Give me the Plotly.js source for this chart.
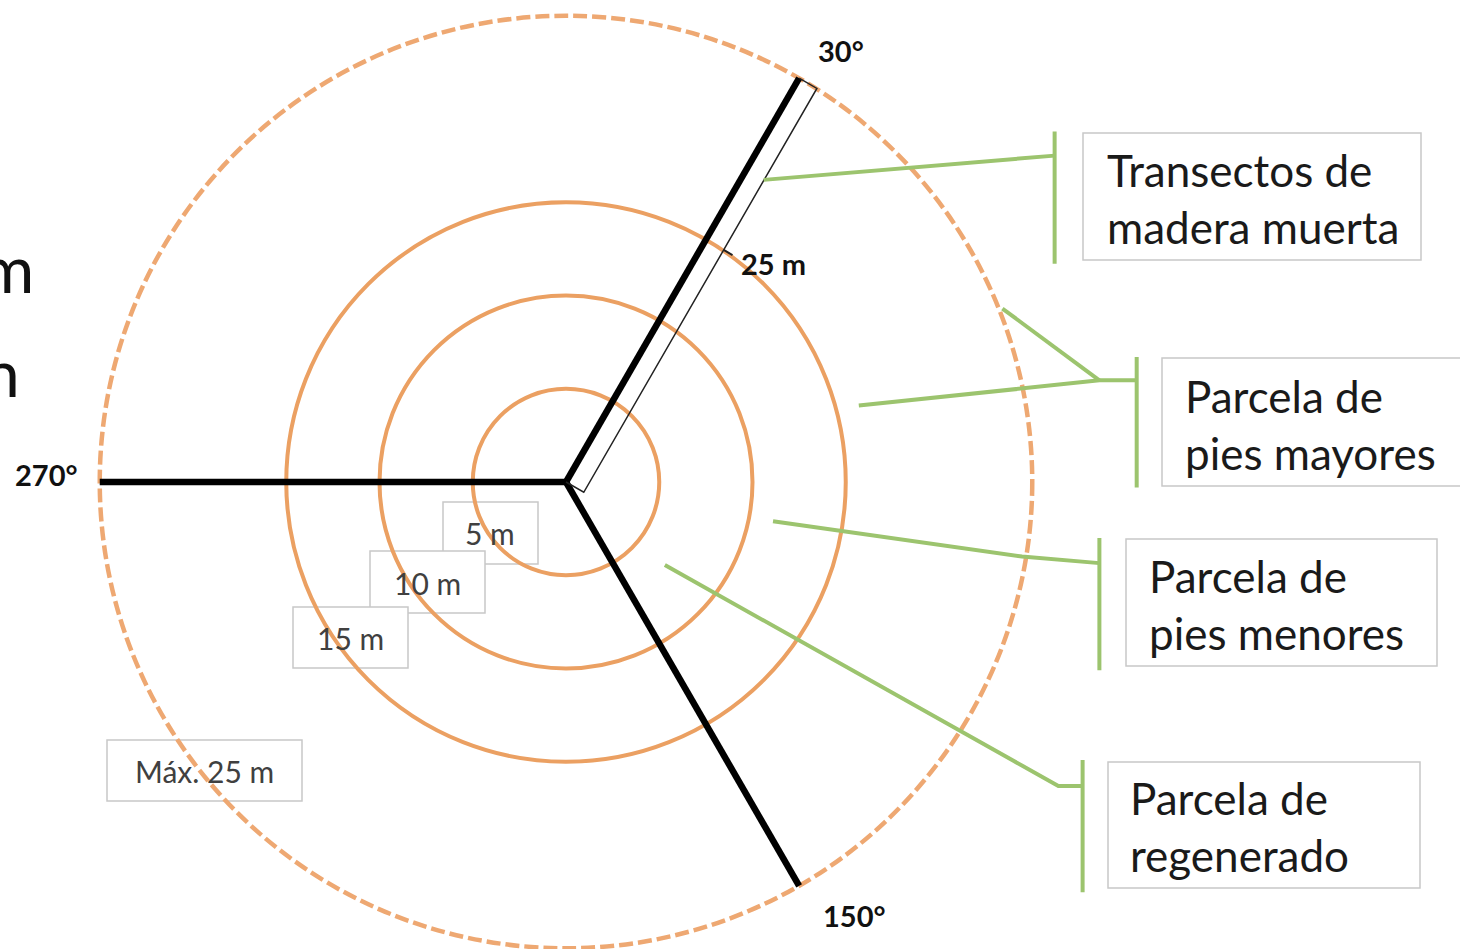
<!DOCTYPE html>
<html>
<head>
<meta charset="utf-8">
<script src="https://cdn.plot.ly/plotly-3.0.1.min.js"></script>
<style>
html,body{margin:0;padding:0;background:#ffffff;}
#chart{width:1460px;height:949px;}
</style>
</head>
<body>
<div id="chart"></div>
<script>
// ---------------- DATA (metres / degrees) ----------------
const ringRadii = [5, 10, 15];
const ringLabels = ['5 m', '10 m', '15 m'];
const maxRadius = 25;
const maxLabel = 'Máx. 25 m';
const transectBearings = [30, 150, 270];
const transectLabels = ['30°', '150°', '270°'];
const transectLength = 25;
const tapeBearing = 30;
const tapeWidth = 1.1;
const tapeLabel = '25 m';
const tapeMarkAt = 15;
const calloutTexts = [
  'Transectos de<br>madera muerta',
  'Parcela de<br>pies mayores',
  'Parcela de<br>pies menores',
  'Parcela de<br>regenerado'
];
// leader lines (metres, plot coordinates)
const leaderX = [[10.6, 26.2], [23.4, 28.6], [15.7, 28.6, 30.6], [11.1, 24.45, 28.6], [5.3, 26.4, 27.7]];
const leaderY = [[16.2, 17.5], [9.3, 5.45], [4.1, 5.45, 5.45], [-2.1, -4.0, -4.35], [-4.45, -16.3, -16.3]];
// brackets (metres)
const bracketX = [26.2, 30.6, 28.6, 27.7];
const bracketY0 = [18.8, 6.7, -3.0, -14.9];
const bracketY1 = [11.7, -0.3, -10.1, -22.0];

// ---------------- LAYOUT CONSTANTS (pixels) ----------------
const W = 1460, H = 949;
const CX = 566, CY = 482, PXM = 18.65;
const px = x => x / W;
const py = y => 1 - y / H;
const FONT = 'Lato, "Noto Sans", sans-serif';
const ORANGE = '#EBA062';
const ORANGE_D = '#EEA872';
const GREEN = '#9CC46E';
const BOXLINE = '#C8C8C8';

const pt = (r, b) => [r * Math.sin(b * Math.PI / 180), r * Math.cos(b * Math.PI / 180)];

const traces = [];
// transect lines
transectBearings.forEach(b => {
  const e = pt(transectLength, b);
  traces.push({x: [0, e[0]], y: [0, e[1]], mode: 'lines', line: {color: '#000', width: 6.5}, hoverinfo: 'skip', showlegend: false});
});
// tape outline along 30°
(function () {
  const a = tapeBearing * Math.PI / 180;
  const off = [tapeWidth * Math.cos(a), -tapeWidth * Math.sin(a)];
  const e = pt(transectLength, tapeBearing);
  traces.push({
    x: [0, off[0], e[0] + off[0], e[0]],
    y: [0, off[1], e[1] + off[1], e[1]],
    mode: 'lines', line: {color: '#222', width: 1.5}, hoverinfo: 'skip', showlegend: false
  });
  const m = pt(tapeMarkAt, tapeBearing);
  const m0 = [m[0] + off[0], m[1] + off[1]];
  const m1 = [m[0] + off[0] * 1.5, m[1] + off[1] * 1.5];
  traces.push({x: [m0[0], m1[0]], y: [m0[1], m1[1]], mode: 'lines', line: {color: '#222', width: 2}, hoverinfo: 'skip', showlegend: false});
})();
// leaders
leaderX.forEach((xs, i) => {
  traces.push({x: xs, y: leaderY[i], mode: 'lines', line: {color: GREEN, width: 4}, hoverinfo: 'skip', showlegend: false});
});
bracketX.forEach((bx, i) => {
  traces.push({x: [bx, bx], y: [bracketY0[i], bracketY1[i]], mode: 'lines', line: {color: GREEN, width: 4}, hoverinfo: 'skip', showlegend: false});
});

// ---------------- SHAPES ----------------
const shapes = [];
const boxRect = (x0, y0, x1, y1) => ({type: 'rect', xref: 'paper', yref: 'paper', layer: 'below',
  x0: px(x0), x1: px(x1), y0: py(y1), y1: py(y0), fillcolor: '#fff', line: {color: BOXLINE, width: 1.5}});
// small ring label boxes (stepped)
const ringBoxes = [[443, 502, 538, 564], [370, 551, 485, 613], [293, 607, 408, 668]];
ringBoxes.forEach(b => shapes.push(boxRect(...b)));
shapes.push(boxRect(107, 740, 302, 801));
// callout boxes
const calloutBoxes = [[1083, 133, 1421, 260], [1162, 358, 1475, 486], [1126, 539, 1437, 666], [1108, 762, 1420, 888]];
calloutBoxes.forEach(b => shapes.push(boxRect(...b)));
// rings
ringRadii.forEach(r => shapes.push({type: 'circle', xref: 'x', yref: 'y', layer: 'below',
  x0: -r, x1: r, y0: -r, y1: r, line: {color: ORANGE, width: 4}}));
shapes.push({type: 'circle', xref: 'x', yref: 'y', layer: 'below',
  x0: -maxRadius, x1: maxRadius, y0: -maxRadius, y1: maxRadius, line: {color: ORANGE_D, width: 4.5, dash: '14px,5px'}});

// ---------------- ANNOTATIONS ----------------
const ann = [];
const ringLabelPos = [[490, 533], [427, 583], [350, 638]];
ringLabels.forEach((t, i) => ann.push({xref: 'paper', yref: 'paper', x: px(ringLabelPos[i][0]), y: py(ringLabelPos[i][1]),
  text: t, showarrow: false, xanchor: 'center', yanchor: 'middle', font: {family: FONT, size: 30, color: '#404040'}}));
ann.push({xref: 'paper', yref: 'paper', x: px(204), y: py(771), text: maxLabel, showarrow: false,
  xanchor: 'center', yanchor: 'middle', font: {family: FONT, size: 30, color: '#404040'}});
// angle labels relative to transect tips
const angleShift = [[42, 28], [55, -30], [-53, 8]];
transectBearings.forEach((b, i) => {
  const e = pt(transectLength, b);
  ann.push({x: e[0], y: e[1], text: '<b>' + transectLabels[i] + '</b>', showarrow: false, xanchor: 'center', yanchor: 'middle',
    xshift: angleShift[i][0], yshift: angleShift[i][1], font: {family: FONT, size: 29, color: '#111'}});
});
// tape label
(function () {
  const a = tapeBearing * Math.PI / 180;
  const m = pt(tapeMarkAt, tapeBearing);
  ann.push({x: m[0] + tapeWidth * Math.cos(a) * 1.5, y: m[1] - tapeWidth * Math.sin(a) * 1.5, text: '<b>' + tapeLabel + '</b>',
    showarrow: false, xanchor: 'left', yanchor: 'middle', xshift: 6, yshift: -8, font: {family: FONT, size: 29, color: '#111'}});
})();
// callout texts
const calloutPos = [[1105, 198], [1183, 424], [1147, 604], [1128, 826]];
calloutTexts.forEach((t, i) => ann.push({xref: 'paper', yref: 'paper', x: px(calloutPos[i][0]), y: py(calloutPos[i][1]),
  text: t, showarrow: false, xanchor: 'left', yanchor: 'middle', align: 'left', font: {family: FONT, size: 44, color: '#1a1a1a'}}));
// text cropped at the left edge (as in the reference)
ann.push({xref: 'paper', yref: 'paper', x: px(36), y: py(267), text: 'm', showarrow: false, xanchor: 'right', yanchor: 'middle',
  font: {family: FONT, size: 66, color: '#111'}});
ann.push({xref: 'paper', yref: 'paper', x: px(22), y: py(371), text: 'n', showarrow: false, xanchor: 'right', yanchor: 'middle',
  font: {family: FONT, size: 66, color: '#111'}});

const layout = {
  width: W, height: H,
  margin: {l: 0, r: 0, t: 0, b: 0, pad: 0},
  paper_bgcolor: '#ffffff', plot_bgcolor: 'rgba(0,0,0,0)',
  xaxis: {range: [-CX / PXM, (W - CX) / PXM], visible: false, fixedrange: true},
  yaxis: {range: [-(H - CY) / PXM, CY / PXM], visible: false, fixedrange: true},
  shapes: shapes, annotations: ann, showlegend: false
};
Plotly.newPlot('chart', traces, layout, {displayModeBar: false, staticPlot: true});
</script>
</body>
</html>
